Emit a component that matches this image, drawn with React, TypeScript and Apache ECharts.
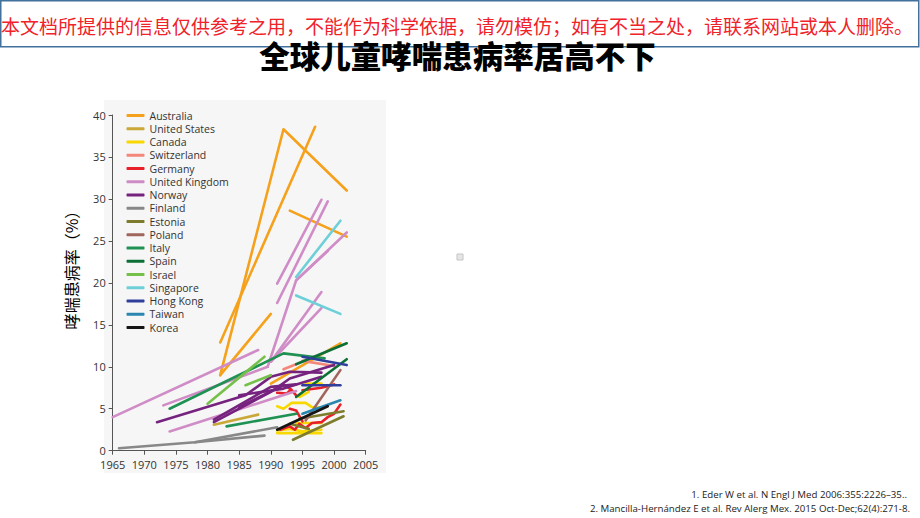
import React, { useEffect, useRef } from "react";
import * as echarts from "echarts";

// ---- data ----
const countries = [
  "Australia", "United States", "Canada", "Switzerland", "Germany", "United Kingdom",
  "Norway", "Finland", "Estonia", "Poland", "Italy", "Spain", "Israel", "Singapore",
  "Hong Kong", "Taiwan", "Korea",
];
const countryColors = [
  "#f5a11c", "#c9a838", "#f8d800", "#f3887a", "#e8202a", "#cf8cc6",
  "#76237f", "#888888", "#7d7c2c", "#a0665c", "#1f9253", "#0b6f36", "#74c04a", "#6dd0d8",
  "#2f3f9b", "#2a86b0", "#151515",
];

const australia = [
  [[1982, 12.9], [1997, 38.6]],
  [[1982, 9.0], [1992, 38.3], [2002, 31.0]],
  [[1982, 9.0], [1990, 16.3]],
  [[1993, 28.6], [2002, 25.5]],
  [[1990, 8.0], [2001, 12.8]],
];
const unitedStates = [[[1981, 3.1], [1988, 4.3]]];
const canada = [
  [[1991, 5.3], [1992, 5.0], [1993.3, 5.7], [1995.5, 5.7], [1996.5, 5.2], [1998, 5.1]],
  [[1995.5, 8.0], [1998, 8.0]],
  [[1991, 2.1], [1998, 2.1]],
  [[1991, 2.4], [1993, 2.6], [1995, 2.3], [1998, 2.5]],
  [[1994, 3.3], [1998, 3.3]],
  [[1994.5, 6.4], [1996, 7.0]],
];
const switzerland = [
  [[1992, 9.7], [1994, 10.3]],
  [[1995, 10.7], [2000, 10.1]],
];
const germany = [
  [[1991, 6.9], [1992.5, 6.8], [1993.2, 7.3], [1994, 6.6]],
  [[1992, 7.9], [1993, 7.4]],
  [[1995, 7.2], [1998, 7.5], [2000, 7.9]],
  [[1991.5, 2.5], [1993, 2.9], [1993.8, 2.5], [1994.5, 3.2], [1995.5, 2.7], [1996.5, 3.3], [1998, 3.4], [1999, 4.0], [2000, 4.4], [2001, 5.5]],
  [[1993, 5.0], [1994, 4.8], [1995, 3.5]],
];
const unitedKingdom = [
  [[1965, 4.0], [1988, 12.0]],
  [[1973, 5.4], [1989.5, 10.0]],
  [[1974, 2.3], [1994, 7.1]],
  [[1989.5, 10.0], [1994, 20.3], [2002, 26.0]],
  [[1994, 20.3], [1999, 23.8]],
  [[1990, 10.6], [1998, 18.9]],
  [[1990, 10.6], [1998, 17.0]],
  [[1991, 19.9], [1998, 29.9]],
  [[1991, 17.6], [1999, 29.7]],
];
const norway = [
  [[1972, 3.4], [1986, 6.6], [1990, 8.8], [1993, 9.4], [1998, 9.3]],
  [[1981, 3.4], [1990, 7.0], [1993, 8.6], [2000, 10.2]],
  [[1981, 3.7], [1990, 7.6], [1994, 7.9]],
  [[1985, 6.6], [1992, 7.4], [1998, 8.8]],
  [[1985, 5.2], [1992, 7.8]],
];
const finland = [
  [[1966, 0.3], [1978, 1.0], [1991, 2.8]],
  [[1978, 1.0], [1989, 1.8]],
];
const estonia = [
  [[1993.5, 1.3], [2001.5, 4.1]],
  [[1994.5, 3.8], [2001.5, 4.7]],
  [[1993, 3.2], [1996, 2.6]],
];
const poland = [[[1995.5, 3.6], [2001, 9.6]]];
const italy = [
  [[1974, 5.0], [1992, 11.6], [1998.5, 11.0]],
  [[1983, 2.9], [1994, 4.4]],
];
const spain = [
  [[1994, 10.3], [2002, 12.8]],
  [[1994, 6.4], [2002, 10.9]],
];
const israel = [
  [[1980, 5.6], [1989, 11.2]],
  [[1986, 7.8], [1990, 9.0]],
];
const singapore = [
  [[1994, 20.7], [2001, 27.4]],
  [[1994, 18.5], [2001, 16.3]],
];
const hongKong = [
  [[1995, 11.2], [2002, 10.2]],
  [[1995, 7.8], [2001, 7.8]],
];
const taiwan = [[[1995, 4.4], [2001, 6.0]]];
const korea = [[[1991, 2.5], [1999, 5.3]]];

const xTicks = { min: 1965, max: 2005, interval: 5 };
const yTicks = { min: 0, max: 40, interval: 5 };

const segmentsByCountry = [
  australia, unitedStates, canada, switzerland, germany, unitedKingdom,
  norway, finland, estonia, poland, italy, spain, israel, singapore,
  hongKong, taiwan, korea,
];

const redNotice = "本文档所提供的信息仅供参考之用，不能作为科学依据，请勿模仿；如有不当之处，请联系网站或本人删除。";
const titleText = "全球儿童哮喘患病率居高不下";
const yAxisTitle = "哮喘患病率（%）";
const ref1 = "1. Eder W et al. N Engl J Med 2006:355:2226–35..";
const ref2 = "2. Mancilla-Hernández E et al. Rev Alerg Mex. 2015 Oct-Dec;62(4):271-8.";

export default function App() {
  const ref = useRef<HTMLDivElement>(null);
  useEffect(() => {
    if (!ref.current) return;
    const chart = echarts.init(ref.current, null, { renderer: "svg" });
    const series: any[] = [];
    segmentsByCountry.forEach((segs, ci) => {
      segs.forEach((seg) => {
        series.push({
          type: "line",
          name: countries[ci],
          data: seg,
          showSymbol: false,
          symbol: "none",
          silent: true,
          itemStyle: { color: countryColors[ci] },
          lineStyle: { color: countryColors[ci], width: 2.6, cap: "round", join: "round" },
        });
      });
    });
    const axisColor = "#555";
    chart.setOption({
      animation: false,
      grid: { left: 112.7, top: 115, width: 253, height: 335.7, containLabel: false },
      xAxis: {
        type: "value",
        min: xTicks.min,
        max: xTicks.max,
        interval: xTicks.interval,
        splitLine: { show: false },
        axisLine: { show: true, lineStyle: { color: axisColor, width: 1 } },
        axisTick: { show: true, length: 4, lineStyle: { color: axisColor } },
        axisLabel: { color: "#333", fontSize: 11, lineHeight: 12, margin: 8, fontFamily: "Open Sans", formatter: (v: number) => String(v) },
      },
      yAxis: {
        type: "value",
        min: yTicks.min,
        max: yTicks.max,
        interval: yTicks.interval,
        splitLine: { show: false },
        axisLine: { show: true, lineStyle: { color: axisColor, width: 1 } },
        axisTick: { show: true, length: 4, lineStyle: { color: axisColor } },
        axisLabel: { color: "#333", fontSize: 11, lineHeight: 12, margin: 7, fontFamily: "Open Sans" },
      },
      legend: {
        data: countries,
        orient: "vertical",
        left: 126.5,
        top: 109,
        padding: 0,
        icon: "roundRect",
        itemWidth: 18,
        itemHeight: 3,
        itemGap: 0.25,
        selectedMode: false,
        textStyle: { fontSize: 10.5, color: "#333", fontFamily: "Open Sans", lineHeight: 13 },
      },
      graphic: [
        { type: "rect", z: -10, silent: true, shape: { x: 104, y: 100, width: 282, height: 373 }, style: { fill: "#f6f6f6" } },
        { type: "rect", silent: true, shape: { x: 0.75, y: 0.75, width: 918, height: 46 }, style: { fill: "none", stroke: "#41719c", lineWidth: 1.5 } },
        { type: "text", silent: true, x: 1, y: 25, style: { text: redNotice, fill: "#f0222a", fontSize: 19, lineHeight: 19, fontFamily: "Noto Sans CJK SC", textVerticalAlign: "middle", textAlign: "left" } },
        { type: "text", silent: true, x: 457.5, y: 55, style: { text: titleText, fill: "#000", fontSize: 30.5, lineHeight: 30, fontWeight: 900, fontFamily: "Noto Sans CJK SC", textAlign: "center", textVerticalAlign: "middle" } },
        { type: "text", silent: true, x: 71, y: 266, rotation: Math.PI / 2, style: { text: yAxisTitle, fill: "#000", fontSize: 16, fontFamily: "Noto Sans CJK SC", textAlign: "center", textVerticalAlign: "middle" } },
        { type: "rect", silent: true, shape: { x: 457, y: 254, width: 6, height: 6 }, style: { fill: "#e6e6e6", stroke: "#c4c4c4", lineWidth: 1 } },
        { type: "text", silent: true, x: 907, y: 494, style: { text: ref1, fill: "#222", fontSize: 9.7, fontFamily: "Open Sans", textAlign: "right", textVerticalAlign: "middle" } },
        { type: "text", silent: true, x: 910, y: 508, style: { text: ref2, fill: "#222", fontSize: 9.7, fontFamily: "Open Sans", textAlign: "right", textVerticalAlign: "middle" } },
      ],
      series,
    });
    return () => chart.dispose();
  }, []);
  return (
    <div
      ref={ref}
      style={{ position: "fixed", left: 0, top: 0, width: 920, height: 518, background: "#fff" }}
    />
  );
}
